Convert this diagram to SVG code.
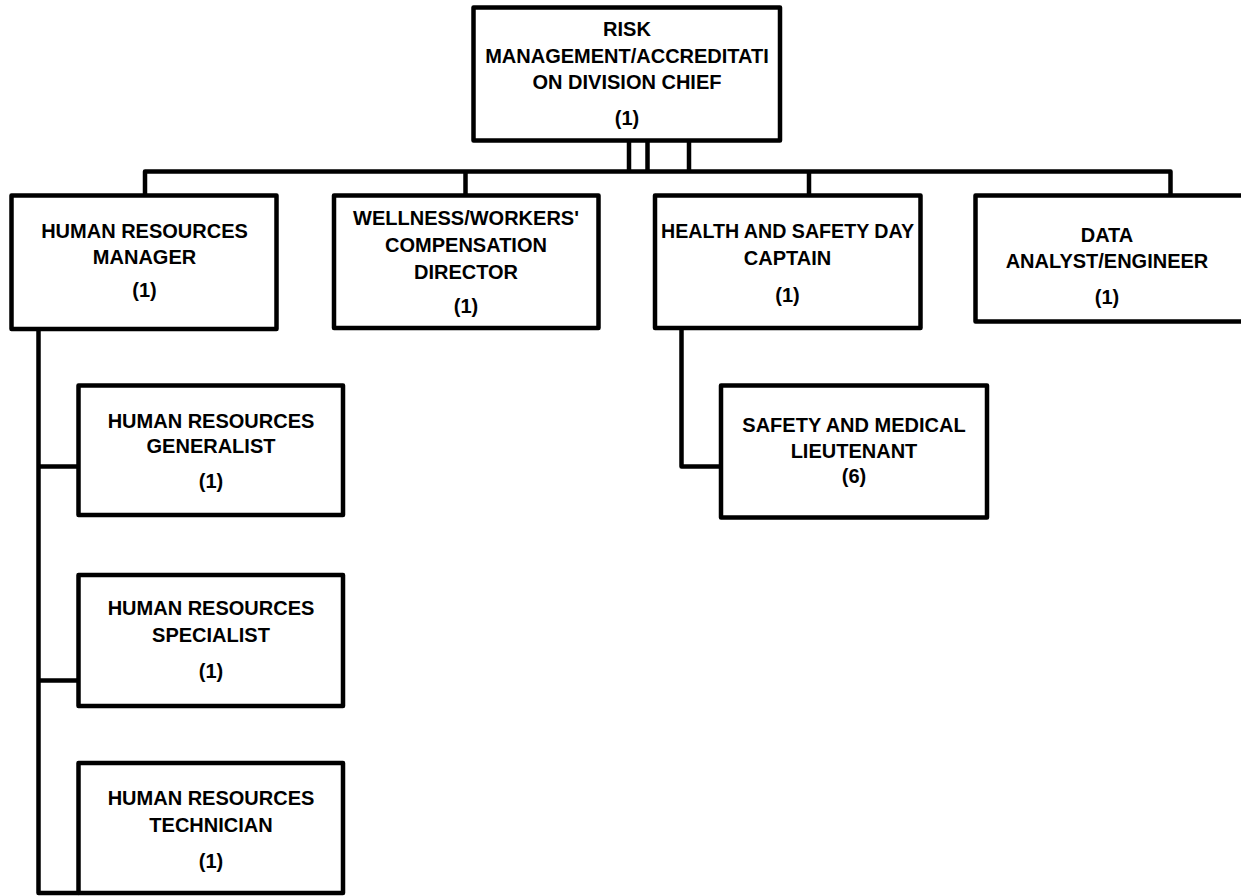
<svg xmlns="http://www.w3.org/2000/svg" width="1241" height="896" viewBox="0 0 1241 896">
<style>
.box{fill:#fff;stroke:#000;stroke-width:4.5;stroke-linejoin:round}
.con{fill:none;stroke:#000;stroke-width:4.5;stroke-linejoin:round}
text{font-family:"Liberation Sans",Arial,sans-serif;font-weight:bold;font-size:20px;fill:#000;text-anchor:middle}
</style>
<rect width="1241" height="896" fill="#fff"/>
<g id="connectors">
<path class="con" d="M145 195.5 V171.5 H1170.5 V195.5"/>
<path class="con" d="M629 140.5 V171.5 M647.5 140.5 V171.5 M689 140.5 V171.5"/>
<path class="con" d="M465.5 171.5 V195.5 M809 171.5 V195.5"/>
<path class="con" d="M38.5 329 V893 H78.5 M38.5 466.5 H78.5 M38.5 680.5 H78.5"/>
<path class="con" d="M681.5 328 V466.5 H721"/>
</g>
<g id="chief">
<rect class="box" x="473.5" y="7.5" width="306.5" height="133"/>
<text x="627" y="35.7">RISK</text>
<text x="627" y="62.7">MANAGEMENT/ACCREDITATI</text>
<text x="627" y="89">ON DIVISION CHIEF</text>
<text x="627" y="125">(1)</text>
</g>
<g id="hr-manager">
<rect class="box" x="11.5" y="195.5" width="265" height="133.5"/>
<text x="144.5" y="238.3">HUMAN RESOURCES</text>
<text x="144.5" y="264">MANAGER</text>
<text x="144.5" y="297.3">(1)</text>
</g>
<g id="wellness">
<rect class="box" x="334" y="195.5" width="264.5" height="132.5"/>
<text x="466" y="225">WELLNESS/WORKERS'</text>
<text x="466" y="252.3">COMPENSATION</text>
<text x="466" y="279">DIRECTOR</text>
<text x="466" y="313.3">(1)</text>
</g>
<g id="health-safety">
<rect class="box" x="655" y="195.5" width="265.5" height="132.5"/>
<text x="787.5" y="238.3" textLength="253" lengthAdjust="spacingAndGlyphs">HEALTH AND SAFETY DAY</text>
<text x="787.5" y="265">CAPTAIN</text>
<text x="787.5" y="301.7">(1)</text>
</g>
<g id="data-analyst">
<rect class="box" x="975.5" y="195.5" width="270" height="126"/>
<text x="1107" y="241.7">DATA</text>
<text x="1107" y="268.3">ANALYST/ENGINEER</text>
<text x="1107" y="304">(1)</text>
</g>
<g id="hr-generalist">
<rect class="box" x="78.5" y="385.5" width="264.5" height="129.5"/>
<text x="211" y="428.3">HUMAN RESOURCES</text>
<text x="211" y="453.3">GENERALIST</text>
<text x="211" y="488.3">(1)</text>
</g>
<g id="hr-specialist">
<rect class="box" x="78.5" y="575" width="264.5" height="131"/>
<text x="211" y="615">HUMAN RESOURCES</text>
<text x="211" y="641.7">SPECIALIST</text>
<text x="211" y="678.3">(1)</text>
</g>
<g id="hr-technician">
<rect class="box" x="78.5" y="763" width="264.5" height="130"/>
<text x="211" y="805">HUMAN RESOURCES</text>
<text x="211" y="831.7">TECHNICIAN</text>
<text x="211" y="868.3">(1)</text>
</g>
<g id="safety-medical">
<rect class="box" x="721" y="385.5" width="266" height="132"/>
<text x="854" y="431.7">SAFETY AND MEDICAL</text>
<text x="854" y="458.3">LIEUTENANT</text>
<text x="854" y="483.3">(6)</text>
</g>
</svg>
